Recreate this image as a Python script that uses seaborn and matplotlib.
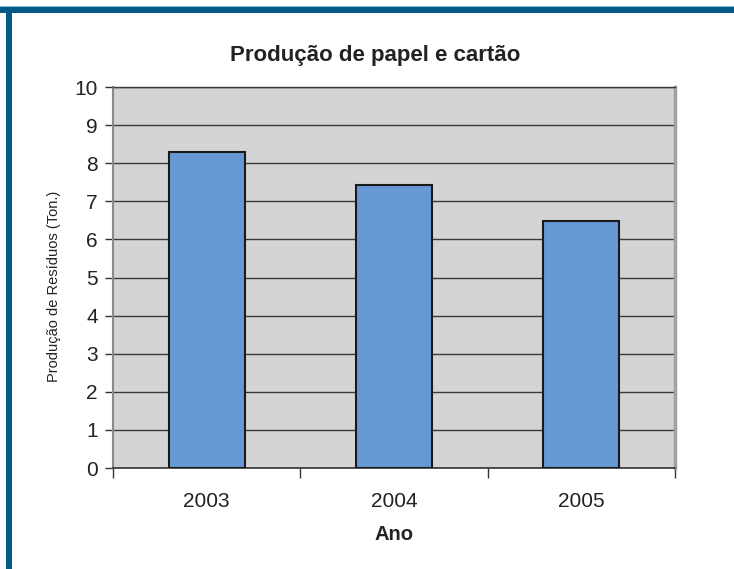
import matplotlib
matplotlib.use("Agg")
import matplotlib.pyplot as plt
import matplotlib.patches as mpatches
import seaborn as sns
import pandas as pd

years = ["2003", "2004", "2005"]
values = [8.30, 7.42, 6.47]
y_ticks = list(range(0, 11))

title = "Produção de papel e cartão"
xlabel = "Ano"
ylabel = "Produção de Resíduos (Ton.)"

sns.set_theme(style="white")
plt.rcParams["font.family"] = ["Liberation Sans", "DejaVu Sans"]

fig = plt.figure(figsize=(7.34, 5.69), dpi=100)
ax = fig.add_axes([0.1540, 0.1775, 0.7656, 0.6696])

df = pd.DataFrame({"Ano": years, "Valor": values})
sns.barplot(data=df, x="Ano", y="Valor", ax=ax, color="#6699d4",
            saturation=1, width=0.406, edgecolor="#1a1a1a", linewidth=1.5,
            zorder=3)

ax.set_facecolor("#d3d4d6")
ax.set_ylim(0, 10)
ax.set_xlim(-0.5, 2.5)
ax.set_yticks(y_ticks)
ax.set_yticklabels([str(t) for t in y_ticks])
for t in y_ticks:
    ax.axhline(t, color="#3a3a3a", lw=1.0, zorder=1)

ax.set_xticks([-0.5, 0.5, 1.5, 2.5], minor=False)
ax.set_xticklabels(["", "", "", ""])
ax.set_xticks([0, 1, 2], minor=True)
ax.set_xticklabels(years, minor=True)
ax.tick_params(axis="x", which="major", length=7, width=1, color="#333333",
               direction="out", bottom=True)
ax.tick_params(axis="x", which="minor", length=0, labelsize=15, pad=17,
               labelcolor="#222222")
ax.tick_params(axis="y", length=6, width=1, color="#333333", direction="out",
               left=True, labelsize=15, pad=5, labelcolor="#222222")

ax.spines["left"].set_color("#8a8a8a")
ax.spines["left"].set_linewidth(1.5)
ax.spines["right"].set_color("#a0a0a0")
ax.spines["right"].set_linewidth(2.5)
ax.spines["top"].set_color("#3a3a3a")
ax.spines["top"].set_linewidth(1.0)
ax.spines["bottom"].set_color("#333333")
ax.spines["bottom"].set_linewidth(1.2)

ax.set_xlabel(xlabel, fontsize=14.5, fontweight="bold", labelpad=10,
              color="#222222")
ax.set_ylabel(ylabel, fontsize=10.5, color="#222222")
ax.yaxis.set_label_coords((54 - 113) / 562, 0.478)
ax.yaxis.label.set_verticalalignment("center")
ax.yaxis.label.set_horizontalalignment("center")

fig.text(375 / 734, 1 - 56 / 569, title, fontsize=16, fontweight="bold",
         ha="center", va="center", color="#222222")

# frame
fig.add_artist(mpatches.Rectangle((0.0, 0.9777), 1.0, 0.0100,
                                  transform=fig.transFigure,
                                  color="#035a86", lw=0))
fig.add_artist(mpatches.Rectangle((0.0, 0.9877), 1.0, 0.0025,
                                  transform=fig.transFigure,
                                  color="#8fb7cc", lw=0))
fig.add_artist(mpatches.Rectangle((0.0082, 0.0), 0.0082, 0.9877,
                                  transform=fig.transFigure,
                                  color="#035a86", lw=0))

fig.savefig("out.png", dpi=100)
